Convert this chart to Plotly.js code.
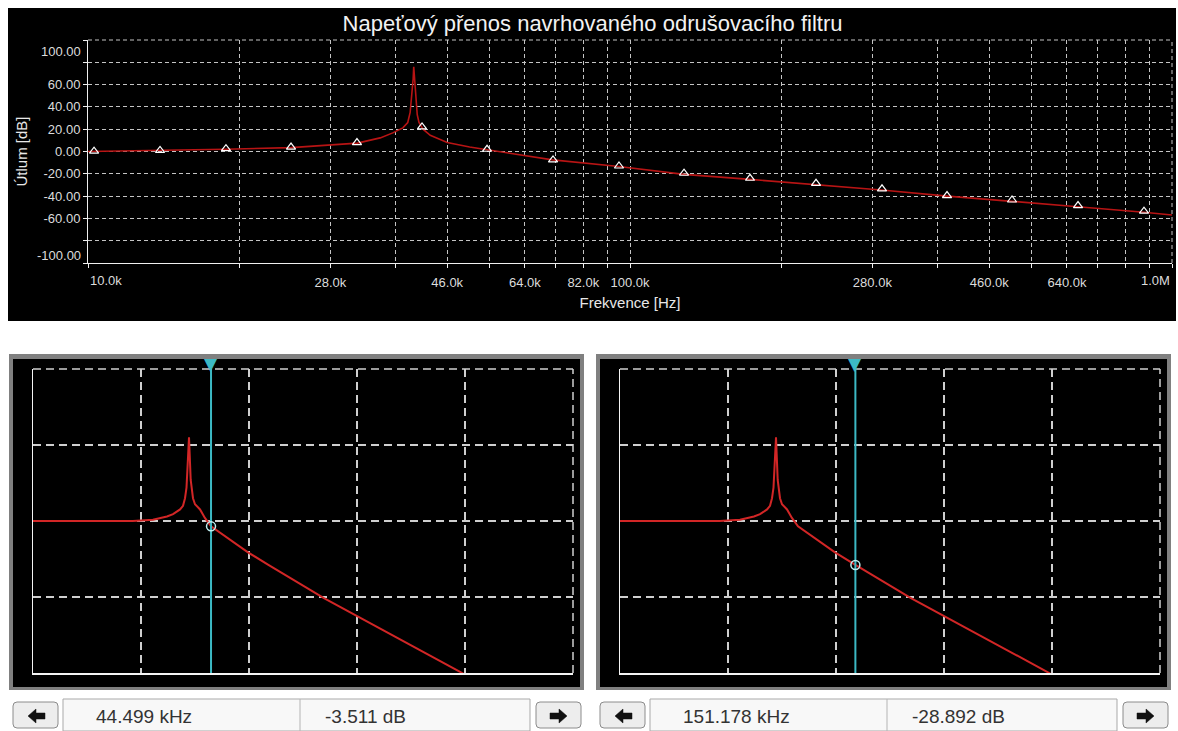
<!DOCTYPE html>
<html>
<head>
<meta charset="utf-8">
<script src="https://cdn.plot.ly/plotly-3.0.1.min.js"></script>
<style>
html,body{margin:0;padding:0;background:#ffffff;}
#chart{width:1178px;height:731px;}
</style>
</head>
<body>
<div id="chart"></div>
<script>
// ---------------- data ----------------
// main frequency response (top chart)
const mainFreqHz = [10000, 13600, 17900, 23700, 27900, 31400, 34600, 36500, 38100, 38900, 39300, 39600, 39800, 39900, 40050, 40250, 40500, 40800, 41500, 42800, 46000, 50600, 54800, 62700, 72000, 95400, 125800, 166500, 220000, 291000, 385000, 509000, 670000, 888000, 1000000];
const mainDb     = [0.0,   0.8,   2.0,   3.5,   5.5,   7.5,   12.2,  16.7,  21.2,  26,    35,    50,    65,    76,    65,    48,    33,    26,    20,    14.5,  8,     4,     1.5,   -3,    -7.5,  -13.5, -20.5,  -25,    -29.5,  -34.5,  -40,    -44.5,  -49.5,  -54.5,  -57];

// triangle markers on the main curve
const markerFreqHz = [10260, 13580, 17970, 23690, 31350, 41330, 54480, 72110, 95430, 125800, 166500, 220400, 291700, 384500, 506800, 670800, 887800];
const markerDb     = [0.3,   1,     2.5,   4,     8,     22,    2,     -7.5,  -13,   -19.5,  -24,    -28.5,  -33.5,  -39.5,  -43.5,  -48.5,  -53.5];

// axis ticks of the top chart
const xTickVals = [10000, 19000, 28000, 37000, 46000, 55000, 64000, 73000, 82000, 91000, 100000, 190000, 280000, 370000, 460000, 550000, 640000, 730000, 820000, 910000, 1000000];
const xTickText = ['10.0k', '', '28.0k', '', '46.0k', '', '64.0k', '', '82.0k', '', '100.0k', '', '280.0k', '', '460.0k', '', '640.0k', '', '', '', '1.0M'];
const yTickVals = [100, 80, 60, 40, 20, 0, -20, -40, -60, -80, -100];
const yTickText = ['100.00', '', '60.00', '40.00', '20.00', '0.00', '-20.00', '-40.00', '-60.00', '', '-100.00'];

// scope panels (bottom)
const scopeFreqHz = [1000, 8400, 12900, 17400, 19800, 23000, 24500, 25550, 26380, 26840, 27830, 28850, 29540, 30300, 31620, 35200, 39070, 44499, 97900, 151178, 494000, 1000000, 9000000, 100000000];
const scopeDb     = [0,    0,    0.8,   3,     4.5,   7.6,   10,    15,    22,    32,    55,    27,    20,    15,    11,    7.6,   2,     -3.511, -20.6, -28.892, -50.7, -62.5,  -99.2,   -144];
const scopeGridFreq = [1000, 10000, 100000, 1000000, 10000000, 100000000];
const scopeGridDb   = [-100, -50, 0, 50, 100];
const cursorFreqHz   = [44499, 151178];
const cursorDb       = [-3.511, -28.892];
const cursorFreqText = ['44.499 kHz', '151.178 kHz'];
const cursorDbText   = ['-3.511 dB', '-28.892 dB'];

// ---------------- layout helpers ----------------
const W = 1178, H = 731;
const fx = p => p / W;
const fy = p => 1 - p / H;
const FONT = 'Liberation Sans, Arial, sans-serif';
const tickFont = {family: FONT, size: 13, color: '#dcdcdc'};
const CYAN = '#3cb9c4';

const traces = [];
// top chart
traces.push({type: 'scatter', mode: 'lines', x: mainFreqHz, y: mainDb, xaxis: 'x', yaxis: 'y',
  line: {color: '#b81414', width: 1.6}, hoverinfo: 'skip'});
traces.push({type: 'scatter', mode: 'markers', x: markerFreqHz, y: markerDb, xaxis: 'x', yaxis: 'y',
  marker: {symbol: 'triangle-up-open', size: 8, color: '#ffffff', line: {width: 1.2, color: '#ffffff'}}, hoverinfo: 'skip'});

// scope panels
const scopeAxes = [['x2', 'y2'], ['x3', 'y3']];
const yTop = scopeGridDb[scopeGridDb.length - 1];
const yBot = scopeGridDb[0];
scopeAxes.forEach((ax, i) => {
  traces.push({type: 'scatter', mode: 'lines', x: scopeFreqHz, y: scopeDb, xaxis: ax[0], yaxis: ax[1],
    line: {color: '#d22626', width: 2}, hoverinfo: 'skip'});
  traces.push({type: 'scatter', mode: 'lines', x: [cursorFreqHz[i], cursorFreqHz[i]], y: [yBot, yTop], xaxis: ax[0], yaxis: ax[1],
    line: {color: CYAN, width: 2}, hoverinfo: 'skip'});
  traces.push({type: 'scatter', mode: 'markers', x: [cursorFreqHz[i]], y: [cursorDb[i]], xaxis: ax[0], yaxis: ax[1], cliponaxis: false,
    marker: {symbol: 'circle-open', size: 9, color: '#bfeef0', line: {width: 1.5, color: '#bfeef0'}}, hoverinfo: 'skip'});
});

function scopeX(domain, anchor) {
  return {type: 'log', range: [3, 8], domain: domain, anchor: anchor, tickmode: 'array', tickvals: scopeGridFreq,
    showticklabels: false, ticks: '', showgrid: true, gridcolor: '#cfcfcf', griddash: '8px,5px', gridwidth: 1.5,
    showline: true, linecolor: '#f4f4f4', linewidth: 1.5, zeroline: false, fixedrange: true};
}
function scopeY(domain, anchor) {
  return {range: [yBot, yTop], domain: domain, anchor: anchor, tickmode: 'array', tickvals: scopeGridDb,
    showticklabels: false, ticks: '', showgrid: true, gridcolor: '#cfcfcf', griddash: '8px,5px', gridwidth: 1.5,
    showline: true, linecolor: '#f4f4f4', linewidth: 1.5, zeroline: false, fixedrange: true};
}

// shapes: panels and controls
const shapes = [];
function rect(x0, y0, x1, y1, fill, line, lw) {
  shapes.push({type: 'rect', xref: 'paper', yref: 'paper', x0: fx(x0), x1: fx(x1), y0: fy(y1), y1: fy(y0),
    fillcolor: fill, line: {color: line || fill, width: lw === undefined ? 0 : lw}, layer: 'below'});
}
function pathShape(pts, fill, line, lw, layer) {
  let d = '';
  pts.forEach((p, k) => {
    if (p[0] === 'Q') d += ' Q' + fx(p[1]) + ',' + fy(p[2]) + ' ' + fx(p[3]) + ',' + fy(p[4]);
    else d += (k === 0 ? 'M' : ' L') + fx(p[0]) + ',' + fy(p[1]);
  });
  d += ' Z';
  shapes.push({type: 'path', xref: 'paper', yref: 'paper', path: d, fillcolor: fill,
    line: {color: line || fill, width: lw || 0}, layer: layer || 'above'});
}
function roundBtn(x0, y0, x1, y1, r) {
  pathShape([[x0 + r, y0], [x1 - r, y0], ['Q', x1, y0, x1, y0 + r], [x1, y1 - r], ['Q', x1, y1, x1 - r, y1],
    [x0 + r, y1], ['Q', x0, y1, x0, y1 - r], [x0, y0 + r], ['Q', x0, y0, x0 + r, y0]], '#ededed', '#8c8c8c', 1);
}
function arrow(cx, cy, dir) {
  const s = dir;
  pathShape([[cx - 9 * s, cy], [cx - 1 * s, cy - 7], [cx - 1 * s, cy - 3], [cx + 8 * s, cy - 3],
    [cx + 8 * s, cy + 3], [cx - 1 * s, cy + 3], [cx - 1 * s, cy + 7]], '#111111', '#111111', 0.5);
}
// dashed top / right borders of a subplot (plotly omits grid lines on the range edges)
function borders(xa, ya, color, dash, w) {
  shapes.push({type: 'line', xref: xa + ' domain', yref: ya + ' domain', x0: 0, x1: 1, y0: 1, y1: 1,
    line: {color: color, width: w, dash: dash}, layer: 'below'});
  shapes.push({type: 'line', xref: xa + ' domain', yref: ya + ' domain', x0: 1, x1: 1, y0: 0, y1: 1,
    line: {color: color, width: w, dash: dash}, layer: 'below'});
}

// top black panel
rect(8, 8, 1176, 321, '#000000');

const annotations = [];
const panelOffsets = [0, 587];
panelOffsets.forEach((o, i) => {
  rect(9 + o, 354, 584 + o, 690, '#808080');
  rect(13 + o, 359, 580 + o, 687, '#000000');
  // readout strip
  rect(63 + o, 699, 530 + o, 731, '#f8f8f8', '#a9a9a9', 1);
  shapes.push({type: 'line', xref: 'paper', yref: 'paper', x0: fx(300 + o), x1: fx(300 + o), y0: fy(699), y1: fy(731),
    line: {color: '#b4b4b4', width: 1}});
  roundBtn(13 + o, 702, 58 + o, 728, 4);
  roundBtn(536 + o, 702, 581 + o, 728, 4);
  arrow(37 + o, 716, 1);
  arrow(558 + o, 716, -1);
  annotations.push({xref: 'paper', yref: 'paper', x: fx(94 + o), y: fy(716), xanchor: 'left', yanchor: 'middle',
    text: cursorFreqText[i], showarrow: false, font: {family: FONT, size: 19, color: '#333333'}});
  annotations.push({xref: 'paper', yref: 'paper', x: fx(323 + o), y: fy(716), xanchor: 'left', yanchor: 'middle',
    text: cursorDbText[i], showarrow: false, font: {family: FONT, size: 19, color: '#333333'}});
  // cursor handle on top of the scope
  annotations.push({xref: scopeAxes[i][0], yref: scopeAxes[i][1] + ' domain', x: Math.log10(cursorFreqHz[i]), y: 1,
    xanchor: 'center', yanchor: 'bottom', yshift: -6, text: '▼', showarrow: false, borderpad: 0,
    font: {family: 'DejaVu Sans', size: 17, color: CYAN}});
});
borders('x', 'y', '#c4c4c4', '4px,3px', 1);
borders('x2', 'y2', '#cfcfcf', '8px,5px', 1.5);
borders('x3', 'y3', '#cfcfcf', '8px,5px', 1.5);

// edge tick labels of the top chart (placed like the original, inside the axis span)
annotations.push({xref: 'paper', yref: 'y', x: fx(88), y: yTickVals[0], xanchor: 'right', yanchor: 'middle', xshift: -5, yshift: -11,
  text: yTickText[0], showarrow: false, font: tickFont});
annotations.push({xref: 'paper', yref: 'y', x: fx(88), y: yTickVals[yTickVals.length - 1], xanchor: 'right', yanchor: 'middle', xshift: -5, yshift: 8,
  text: yTickText[yTickText.length - 1], showarrow: false, font: tickFont});
annotations.push({xref: 'x', yref: 'paper', x: Math.log10(xTickVals[0]), y: fy(281), xanchor: 'left', yanchor: 'middle',
  text: xTickText[0], showarrow: false, font: tickFont});
annotations.push({xref: 'x', yref: 'paper', x: Math.log10(xTickVals[xTickVals.length - 1]), y: fy(281), xanchor: 'right', yanchor: 'middle',
  text: xTickText[xTickText.length - 1], showarrow: false, font: tickFont});

const xText = xTickText.map((t, i) => (i === 0 || i === xTickText.length - 1) ? '' : t);
const yText = yTickText.map((t, i) => (i === 0 || i === yTickText.length - 1) ? '' : t);

const layout = {
  width: W, height: H,
  margin: {l: 0, r: 0, t: 0, b: 0},
  paper_bgcolor: '#ffffff',
  plot_bgcolor: '#000000',
  showlegend: false,
  title: {text: 'Napeťový přenos navrhovaného odrušovacího filtru', font: {family: FONT, size: 22, color: '#f2f2f2'},
    x: 0.503, xanchor: 'center', xref: 'paper', y: fy(23), yref: 'paper', yanchor: 'middle'},
  xaxis: {type: 'log', range: [4, 6], domain: [fx(88), fx(1172)], anchor: 'y', tickmode: 'array', tickvals: xTickVals, ticktext: xText,
    showgrid: true, gridcolor: '#c4c4c4', griddash: '4px,3px', gridwidth: 1, showline: true, linecolor: '#f0f0f0', linewidth: 1,
    ticks: 'outside', ticklen: 4, tickcolor: '#f0f0f0', tickfont: tickFont, ticklabelstandoff: 3, zeroline: false, fixedrange: true,
    title: {text: 'Frekvence [Hz]', font: {family: FONT, size: 15, color: '#e8e8e8'}, standoff: 8}},
  yaxis: {range: [-100, 100], domain: [fy(263), fy(40)], anchor: 'x', tickmode: 'array', tickvals: yTickVals, ticktext: yText,
    showgrid: true, gridcolor: '#c4c4c4', griddash: '4px,3px', gridwidth: 1, showline: true, linecolor: '#f0f0f0', linewidth: 1,
    ticks: 'outside', ticklen: 4, tickcolor: '#f0f0f0', tickfont: tickFont, zeroline: false, fixedrange: true,
    title: {text: 'Útlum [dB]', font: {family: FONT, size: 15, color: '#e8e8e8'}, standoff: 12}},
  xaxis2: scopeX([fx(33), fx(573)], 'y2'),
  yaxis2: scopeY([fy(673), fy(369)], 'x2'),
  xaxis3: scopeX([fx(620), fx(1160)], 'y3'),
  yaxis3: scopeY([fy(673), fy(369)], 'x3'),
  shapes: shapes,
  annotations: annotations
};

Plotly.newPlot('chart', traces, layout, {displayModeBar: false, staticPlot: true});
</script>
</body>
</html>
